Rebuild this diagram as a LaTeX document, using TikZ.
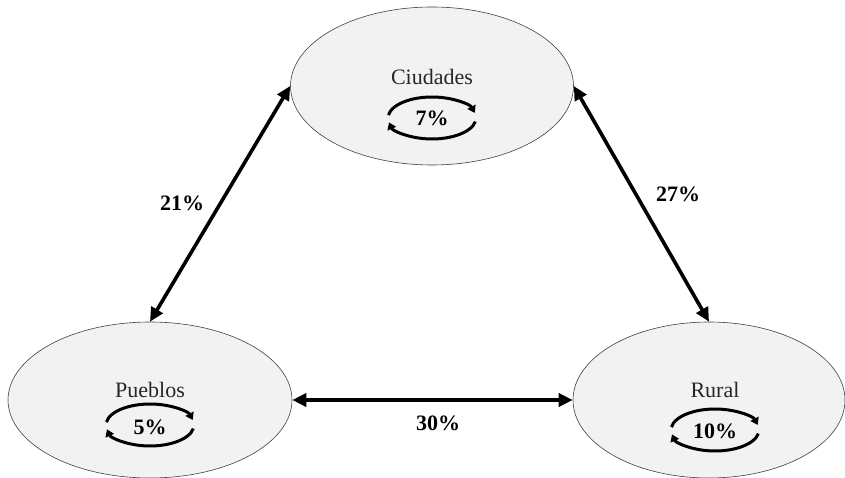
\documentclass[tikz,border=0pt]{standalone}
\usepackage{fontspec}
\setmainfont{Liberation Serif}
\usetikzlibrary{shapes.geometric,arrows.meta}
\begin{document}
\begin{tikzpicture}[x=1pt,y=-1pt,
  region/.style={ellipse, draw=black!75, line width=0.6pt, fill=black!5, inner sep=0pt},
  lbl/.style={font=\fontsize{22}{26}\selectfont, text=black!85, inner sep=0pt},
  pct/.style={font=\bfseries\fontsize{22}{26}\selectfont, inner sep=0pt},
  link/.style={line width=3.6pt, {Triangle[length=14pt,width=13pt]}-{Triangle[length=14pt,width=13pt]}},
  cyc/.pic={
    \draw[line width=3pt,-{Triangle[length=7pt,width=9pt]}]
      (-172:44 and 21) arc[start angle=-172,end angle=-14,x radius=44,y radius=21];
    \draw[line width=3pt,-{Triangle[length=7pt,width=9pt]}]
      (10:44 and 21) arc[start angle=10,end angle=168,x radius=44,y radius=21];
  }
]
\useasboundingbox (0,0) rectangle (845,478);
\node[region, minimum width=283pt, minimum height=158pt] (ciud) at (432,86) {};
\node[region, minimum width=284pt, minimum height=156pt] (pueb) at (150,400) {};
\node[region, minimum width=272pt, minimum height=156pt] (rur) at (709,400) {};

\node[lbl] (tciud) at (432,77) {Ciudades};
\node[lbl] (tpueb) at (150,390) {Pueblos};
\node[lbl] (trur) at (715,390) {Rural};

\pic at (432,118) {cyc};
\pic at (150,425) {cyc};
\pic at (715,430) {cyc};

\node[pct] (p7) at (432,118) {7\%};
\node[pct] (p5) at (150,427) {5\%};
\node[pct] (p10) at (715,431) {10\%};

\draw[link] (ciud.west) -- (pueb.north);
\draw[link] (ciud.east) -- (rur.north);
\draw[link] (pueb.east) -- (rur.west);

\node[pct] (l21) at (182,203) {21\%};
\node[pct] (l27) at (678,194) {27\%};
\node[pct] (l30) at (438,423) {30\%};
\end{tikzpicture}
\end{document}
